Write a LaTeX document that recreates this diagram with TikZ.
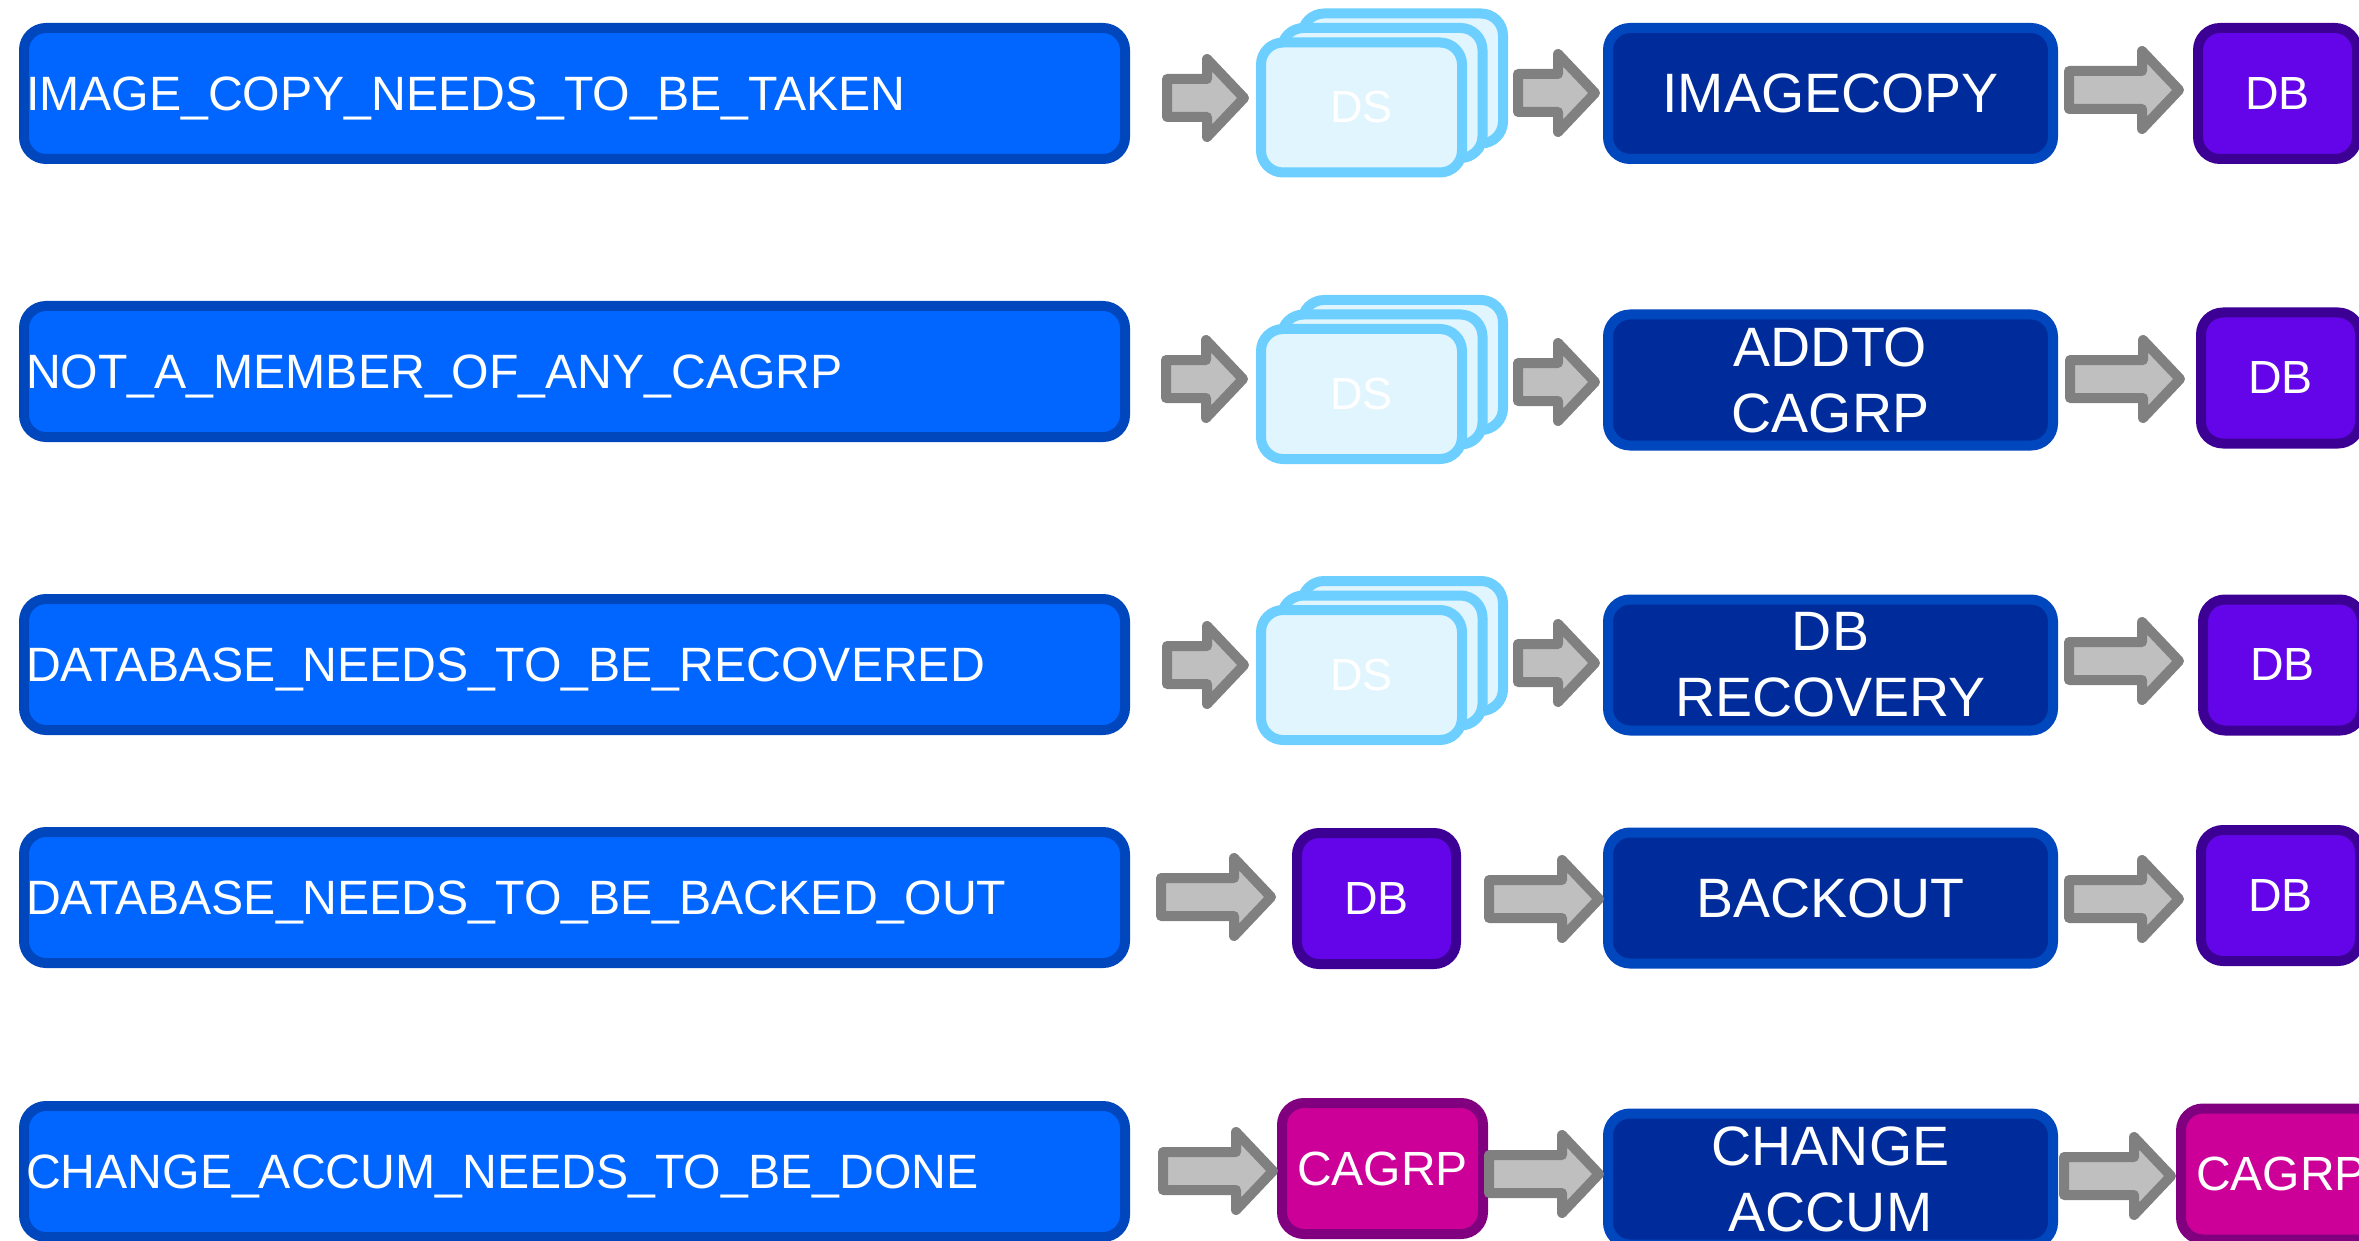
\documentclass[tikz,border=0pt]{standalone}
\usepackage{fontspec}
\setmainfont{Liberation Sans}
\usetikzlibrary{calc}
\definecolor{leftfill}{HTML}{0066FF}
\definecolor{blueline}{HTML}{0047BE}
\definecolor{midfill}{HTML}{002C9B}
\definecolor{dbfill}{HTML}{6305E8}
\definecolor{dbline}{HTML}{3D0095}
\definecolor{cafill}{HTML}{CC0099}
\definecolor{caline}{HTML}{800080}
\definecolor{dsfill}{HTML}{E1F5FE}
\definecolor{dsline}{HTML}{6CCFFF}
\definecolor{arrfill}{HTML}{BFBFBF}
\definecolor{arrline}{HTML}{808080}
\tikzset{
  box/.style={draw, line width=10pt, rounded corners=22pt, inner sep=0pt, outer sep=0pt, text=white, minimum height=131pt},
  condbox/.style={box, fill=leftfill, draw=blueline, text width=1097pt, inner xsep=2pt, align=left, text depth=0pt, font=\fontsize{48.2}{56}\selectfont},
  actbox/.style={box, fill=midfill, draw=blueline, minimum width=445pt, align=center, font=\fontsize{55.5}{66}\selectfont},
  dbbox/.style={box, fill=dbfill, draw=dbline, minimum width=159pt, font=\fontsize{46.5}{54}\selectfont},
  cabox/.style={box, fill=cafill, draw=caline, minimum width=201pt, font=\fontsize{48}{56}\selectfont},
  dscard/.style={box, fill=dsfill, draw=dsline, minimum width=201pt, minimum height=130pt, font=\fontsize{45}{54}\selectfont},
  blockarrow/.style={draw=arrline, fill=arrfill, line width=10pt, line join=round},
}
% #1 tip coordinate name, #2 shaft length
\newcommand\blockarr[2]{%
  \draw[blockarrow] (#1) -- ++(-37,-39) -- ++(0,20) -- ++(-#2,0) -- ++(0,38) -- ++(#2,0) -- ++(0,20) -- cycle;}
% #1 name, #2 position of front card
\newcommand\dsstack[2]{%
  \node[dscard] (#1c) at ($(#2)+(41,-29)$) {};
  \node[dscard] (#1b) at ($(#2)+(20.5,-14.5)$) {};
  \node[dscard] (#1) at (#2) {DS};}
\begin{document}
\begin{tikzpicture}[x=1pt,y=-1pt]
\useasboundingbox (0,0) rectangle (2359,1241);
\clip (0,0) rectangle (2359,1241);

% condition boxes
\node[condbox] (c1) at (574.5,93.5) {IMAGE\_COPY\_NEEDS\_TO\_BE\_TAKEN};
\node[condbox] (c2) at (574.5,371.5) {NOT\_A\_MEMBER\_OF\_ANY\_CAGRP};
\node[condbox] (c3) at (574.5,664.5) {DATABASE\_NEEDS\_TO\_BE\_RECOVERED};
\node[condbox] (c4) at (574.5,897.5) {DATABASE\_NEEDS\_TO\_BE\_BACKED\_OUT};
\node[condbox] (c5) at (574.5,1171.5) {CHANGE\_ACCUM\_NEEDS\_TO\_BE\_DONE};

% second column
\dsstack{ds1}{1361.5,107.5}
\dsstack{ds2}{1361.5,394}
\dsstack{ds3}{1361.5,675}
\node[dbbox] (in4) at (1376.5,898.5) {DB};
\node[cabox] (in5) at (1382.5,1168.5) {CAGRP};

% action boxes
\node[actbox] (m1) at (1830.5,93.5) {IMAGECOPY};
\node[actbox] (m2) at (1830.5,380) {ADDTO\\CAGRP};
\node[actbox] (m3) at (1830.5,665) {DB\\RECOVERY};
\node[actbox] (m4) at (1830.5,898) {BACKOUT};
\node[actbox] (m5) at (1830.5,1179) {CHANGE\\ACCUM};

% result boxes
\node[dbbox] (r1) at (2277.5,93.5) {DB};
\node[dbbox] (r2) at (2280.5,378) {DB};
\node[dbbox] (r3) at (2282.5,665) {DB};
\node[dbbox] (r4) at (2280.5,895.5) {DB};
\node[cabox] (r5) at (2281.5,1174) {CAGRP};

% arrow tips
\coordinate (t11) at (1244,98);  \coordinate (t12) at (1595,93);  \coordinate (t13) at (2179,90);
\coordinate (t21) at (1243,379); \coordinate (t22) at (1595,382); \coordinate (t23) at (2180,379);
\coordinate (t31) at (1244,665); \coordinate (t32) at (1595,663); \coordinate (t33) at (2179,661);
\coordinate (t41) at (1271,897); \coordinate (t42) at (1599,899); \coordinate (t43) at (2179,899);
\coordinate (t51) at (1273,1171); \coordinate (t52) at (1599,1174); \coordinate (t53) at (2171,1176);

\blockarr{t11}{40} \blockarr{t12}{40} \blockarr{t13}{73}
\blockarr{t21}{40} \blockarr{t22}{40} \blockarr{t23}{73}
\blockarr{t31}{40} \blockarr{t32}{40} \blockarr{t33}{73}
\blockarr{t41}{73} \blockarr{t42}{73} \blockarr{t43}{73}
\blockarr{t51}{73} \blockarr{t52}{73} \blockarr{t53}{70}
\end{tikzpicture}
\end{document}
